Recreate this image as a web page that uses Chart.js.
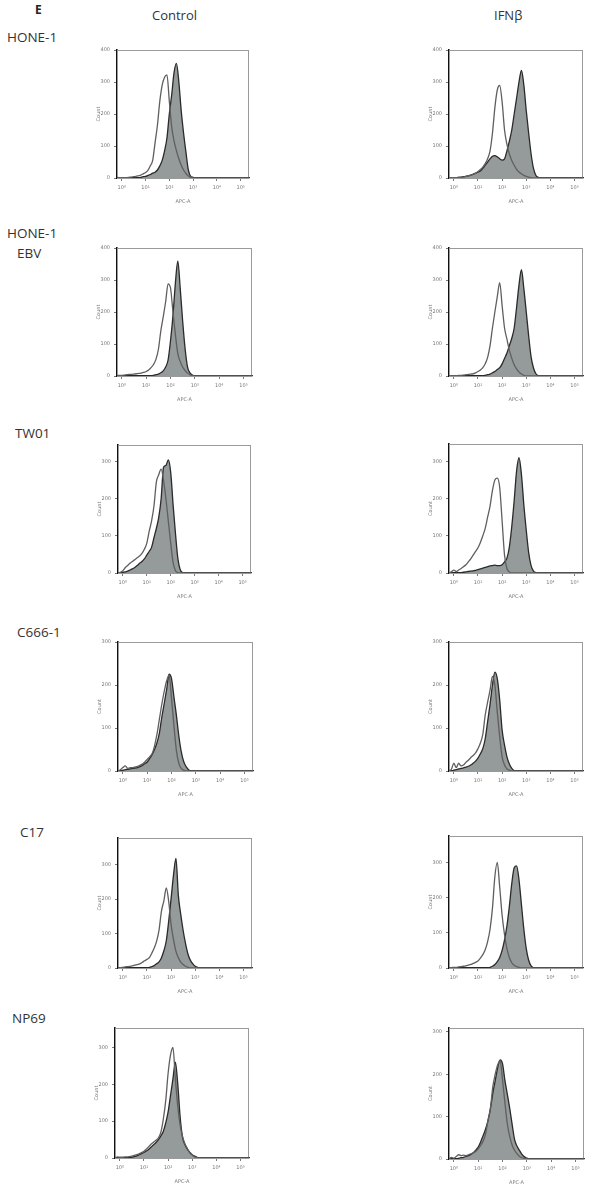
<!DOCTYPE html>
<html><head><meta charset="utf-8">
<script src="https://cdn.jsdelivr.net/npm/chart.js@4/dist/chart.umd.min.js"></script>
<style>
html,body{margin:0;padding:0;background:#fff;}
body{width:605px;height:1199px;position:relative;overflow:hidden;font-family:"Open Sans",sans-serif;color:#333;}
.lbl{position:absolute;white-space:nowrap;line-height:1;}
canvas{position:absolute;}
</style></head><body>
<div class="lbl" style="left:35px;top:4px;font-size:12px;font-weight:bold;color:#222;">E</div>
<div class="lbl" style="left:152px;top:9px;font-size:13px;">Control</div>
<div class="lbl" style="left:494px;top:9px;font-size:13px;">IFNβ</div>
<div class="lbl" style="left:7px;top:31px;font-size:13.5px;">HONE-1</div>
<div class="lbl" style="left:7px;top:227px;font-size:13.5px;">HONE-1</div>
<div class="lbl" style="left:17px;top:247px;font-size:13.5px;">EBV</div>
<div class="lbl" style="left:15px;top:427px;font-size:13.5px;">TW01</div>
<div class="lbl" style="left:17px;top:626px;font-size:13.5px;">C666-1</div>
<div class="lbl" style="left:20px;top:826px;font-size:13.5px;">C17</div>
<div class="lbl" style="left:12px;top:1012px;font-size:13.5px;">NP69</div>
<script>
// x grid in decades (log10 of APC-A)
const xGrid = [-0.2,-0.1,
  0.0,0.1,0.2,0.3,0.4,0.5,0.6,0.7,0.8,0.9,
  1.0,1.1,1.2,1.3,1.4,1.5,1.6,1.7,1.8,1.9,
  2.0,2.1,2.2,2.3,2.4,2.5,2.6,2.7,2.8,2.9,
  3.0,3.1,3.2,3.3,3.4,3.5,3.6,
  4.0,4.5,5.0,5.35];
const xTickValues = [0,1,2,3,4,5];
const xTickLabels = ['10⁰','10¹','10²','10³','10⁴','10⁵'];
const yTicksTall = [0,100,200,300,400];
const yTicksShort = [0,100,200,300];

const hone1CtrlOpen = [2,1, 1,1,1,2,3,4,5,7,9,13, 17,24,38,55,110,165,240,290,315,322, 240,160,115,85,60,40,25,14,6,2, 0,0,0,0,0,0,0, 0,0,0,0];
const hone1CtrlFill = [0,0, 0,0,0,0,0,0,0,0,2,4, 5,8,11,15,18,25,38,55,85,125, 200,260,330,358,300,210,140,80,25,5, 2,0,0,0,0,0,0, 0,0,0,0];
const hone1IfnOpen = [1,1, 1,1,2,2,3,5,7,9,11,15, 20,27,34,45,60,85,140,220,275,289, 238,150,105,75,55,40,27,19,13,8, 5,3,1,0,0,0,0, 0,0,0,0];
const hone1IfnFill = [0,0, 1,1,2,3,4,5,7,9,12,15, 18,22,30,40,50,60,68,70,66,60, 56,60,85,115,150,200,250,300,336,290, 210,140,75,30,8,2,0, 0,0,0,0];

const ebvCtrlOpen = [2,2, 2,3,4,5,5,6,7,8,9,11, 14,19,26,36,52,82,140,185,232,288, 275,200,130,70,45,28,17,9,4,1, 0,0,0,0,0,0,0, 0,0,0,0];
const ebvCtrlFill = [0,0, 0,0,0,0,0,0,0,0,0,1, 1,1,1,2,4,6,10,16,28,50, 110,188,290,359,273,171,85,28,10,3, 0,0,0,0,0,0,0, 0,0,0,0];
const ebvIfnOpen = [1,1, 1,1,2,2,3,4,5,6,7,10, 14,19,26,38,58,95,150,200,248,292, 220,150,115,80,55,35,22,12,6,2, 0,0,0,0,0,0,0, 0,0,0,0];
const ebvIfnFill = [0,0, 0,0,0,0,0,0,0,0,0,0, 0,0,1,2,4,6,10,14,20,26, 38,55,72,95,118,150,215,285,332,273, 200,125,60,25,7,1,0, 0,0,0,0];

const tw01CtrlOpen = [0,2, 6,14,20,26,31,36,41,46,53,64, 80,112,140,180,245,265,280,250,200,140, 80,28,6,1,0,0,0,0,0,0, 0,0,0,0,0,0,0, 0,0,0,0];
const tw01CtrlFill = [0,0, 2,3,5,8,11,15,20,26,31,38, 48,58,69,95,120,150,200,285,290,305, 271,183,105,38,8,1,0,0,0,0, 0,0,0,0,0,0,0, 0,0,0,0];
const tw01IfnOpen = [0,3, 8,4,8,12,17,22,30,38,48,58, 68,82,100,120,150,180,222,250,255,230, 140,48,12,3,0,0,0,0,0,0, 0,0,0,0,0,0,0, 0,0,0,0];
const tw01IfnFill = [0,0, 0,0,0,1,2,3,4,5,6,7, 9,11,13,15,17,19,20,21,20,20, 22,30,40,70,125,195,275,310,265,183, 115,55,20,5,1,0,0, 0,0,0,0];

const c666CtrlOpen = [0,3, 8,12,6,8,8,9,11,13,16,21, 27,33,40,58,85,120,155,185,210,223, 169,105,48,18,6,2,0,0,0,0, 0,0,0,0,0,0,0, 0,0,0,0];
const c666CtrlFill = [0,0, 2,3,4,5,6,7,8,10,13,17, 21,29,38,50,65,88,125,157,190,225, 215,172,130,82,45,22,10,3,0,0, 0,0,0,0,0,0,0, 0,0,0,0];
const c666IfnOpen = [0,4, 18,8,18,12,14,20,25,31,36,42, 52,65,85,130,160,188,220,200,137,80, 33,14,5,2,0,0,0,0,0,0, 0,0,0,0,0,0,0, 0,0,0,0];
const c666IfnFill = [0,0, 2,3,5,6,7,9,11,14,18,23, 30,40,52,75,115,155,200,230,215,165, 95,60,33,16,6,1,0,0,0,0, 0,0,0,0,0,0,0, 0,0,0,0];

const c17CtrlOpen = [0,1, 2,3,4,5,6,8,10,12,16,21, 25,30,43,58,78,110,165,195,232,193, 125,82,48,30,17,10,5,2,0,0, 0,0,0,0,0,0,0, 0,0,0,0];
const c17CtrlFill = [0,0, 0,0,0,0,0,0,0,0,0,0, 0,2,4,7,12,18,30,50,79,136, 202,270,318,210,155,108,70,40,22,12, 5,2,0,0,0,0,0, 0,0,0,0];
const c17IfnOpen = [0,1, 2,2,3,4,5,6,8,10,13,16, 20,28,38,52,75,110,170,260,300,230, 150,95,55,30,15,8,4,2,0,0, 0,0,0,0,0,0,0, 0,0,0,0];
const c17IfnFill = [0,0, 0,0,0,0,0,0,0,0,0,0, 0,0,0,0,0,2,5,10,18,30, 50,80,120,175,240,285,290,250,180,110, 55,22,6,1,0,0,0, 0,0,0,0];

const np69CtrlOpen = [0,3, 2,2,3,3,4,5,7,9,11,15, 18,24,31,38,43,48,55,70,105,155, 230,280,300,215,140,88,58,38,25,14, 8,3,1,0,0,0,0, 0,0,0,0];
const np69CtrlFill = [0,0, 0,0,0,0,0,2,4,6,9,12, 15,19,24,30,36,42,50,60,72,95, 125,170,215,260,200,110,55,36,24,15, 9,5,2,0,0,0,0, 0,0,0,0];
const np69IfnOpen = [0,4, 2,6,10,8,9,8,10,12,15,18, 24,32,42,58,90,118,170,200,222,232, 187,132,82,52,32,20,12,6,3,1, 0,0,0,0,0,0,0, 0,0,0,0];
const np69IfnFill = [0,0, 0,0,2,3,4,6,8,11,15,21, 28,40,55,70,90,118,155,185,215,234, 225,185,152,118,80,45,30,20,11,5, 2,0,0,0,0,0,0, 0,0,0,0];

// panel layout: plot-area box [left, top, right, bottom] in page pixels
const panels = [
  {open:hone1CtrlOpen, fill:hone1CtrlFill, yMax:400, yTicks:yTicksTall, box:[117,47,249,178]},
  {open:hone1IfnOpen,  fill:hone1IfnFill,  yMax:400, yTicks:yTicksTall, box:[449,47,583,178]},
  {open:ebvCtrlOpen,   fill:ebvCtrlFill,   yMax:400, yTicks:yTicksTall, box:[117,245,252,376]},
  {open:ebvIfnOpen,    fill:ebvIfnFill,    yMax:400, yTicks:yTicksTall, box:[449,245,583,376]},
  {open:tw01CtrlOpen,  fill:tw01CtrlFill,  yMax:345, yTicks:yTicksShort, box:[118,442,251,573]},
  {open:tw01IfnOpen,   fill:tw01IfnFill,   yMax:347, yTicks:yTicksShort, box:[449,441,583,573]},
  {open:c666CtrlOpen,  fill:c666CtrlFill,  yMax:300, yTicks:yTicksShort, box:[118,639,253,771]},
  {open:c666IfnOpen,   fill:c666IfnFill,   yMax:300, yTicks:yTicksShort, box:[449,639,583,771]},
  {open:c17CtrlOpen,   fill:c17CtrlFill,   yMax:377, yTicks:yTicksShort, box:[118,835,252,968]},
  {open:c17IfnOpen,    fill:c17IfnFill,    yMax:375, yTicks:yTicksShort, box:[449,833,583,968]},
  {open:np69CtrlOpen,  fill:np69CtrlFill,  yMax:353, yTicks:yTicksShort, box:[115,1025,249,1158]},
  {open:np69IfnOpen,   fill:np69IfnFill,   yMax:309, yTicks:yTicksShort, box:[449,1025,584,1159]}
];

const PAD_L = 24, PAD_T = 4, PAD_R = 4, PAD_B = 28;

const framePlugin = {
  id:'frame',
  beforeDatasetsDraw(chart){
    const a = chart.chartArea, ctx = chart.ctx;
    ctx.save();
    ctx.strokeStyle = '#9a9a9a';
    ctx.lineWidth = 1;
    ctx.strokeRect(a.left + 0.5, a.top + 0.5, a.right - a.left - 1, a.bottom - a.top);
    ctx.restore();
  }
};

panels.forEach(p => {
  const [L,T,R,B] = p.box;
  const w = R - L + PAD_L + PAD_R, h = B - T + PAD_T + PAD_B;
  const c = document.createElement('canvas');
  c.width = w; c.height = h;
  c.style.left = (L - PAD_L) + 'px'; c.style.top = (T - PAD_T) + 'px';
  c.style.width = w + 'px'; c.style.height = h + 'px';
  document.body.appendChild(c);
  new Chart(c, {
    type:'line',
    data:{datasets:[
      {data:xGrid.map((x,k)=>({x:x, y:p.open[k]})), borderColor:'#5f5f5f', borderWidth:1.3, fill:false,
       pointRadius:0, cubicInterpolationMode:'monotone'},
      {data:xGrid.map((x,k)=>({x:x, y:p.fill[k]})), borderColor:'#2a2a2a', borderWidth:1.3,
       backgroundColor:'#959a9a', fill:'origin', pointRadius:0, cubicInterpolationMode:'monotone'}
    ]},
    options:{
      responsive:false, animation:false, devicePixelRatio:1,
      layout:{padding:{left:0, top:PAD_T, right:PAD_R, bottom:0}},
      plugins:{legend:{display:false}, tooltip:{enabled:false}},
      scales:{
        x:{type:'linear', min:-0.2, max:5.35,
           afterBuildTicks:s=>{ s.ticks = xTickValues.map(v=>({value:v})); },
           afterFit:s=>{ s.height = PAD_B; },
           grid:{display:true, drawOnChartArea:false, drawTicks:true, tickLength:3, color:'#555', lineWidth:0.8},
           border:{display:true, color:'#222', width:1.2},
           ticks:{autoSkip:false, maxRotation:0, padding:4, color:'#777', font:{size:5, family:'DejaVu Sans'},
                  callback:v=>xTickLabels[xTickValues.indexOf(v)]},
           title:{display:true, text:'APC-A', color:'#777', font:{size:5, family:'DejaVu Sans'}, padding:{top:1, bottom:1}}
        },
        y:{min:0, max:p.yMax,
           afterBuildTicks:s=>{ s.ticks = p.yTicks.map(v=>({value:v})); },
           afterFit:s=>{ s.width = PAD_L; },
           grid:{display:true, drawOnChartArea:false, drawTicks:true, tickLength:3, color:'#555', lineWidth:0.8},
           border:{display:true, color:'#111', width:1.6},
           ticks:{autoSkip:false, padding:4, color:'#777', font:{size:5, family:'DejaVu Sans'}},
           title:{display:true, text:'Count', color:'#777', font:{size:5, family:'DejaVu Sans'}, padding:{top:3, bottom:0}}
        }
      }
    },
    plugins:[framePlugin]
  });
});
</script>
</body></html>
